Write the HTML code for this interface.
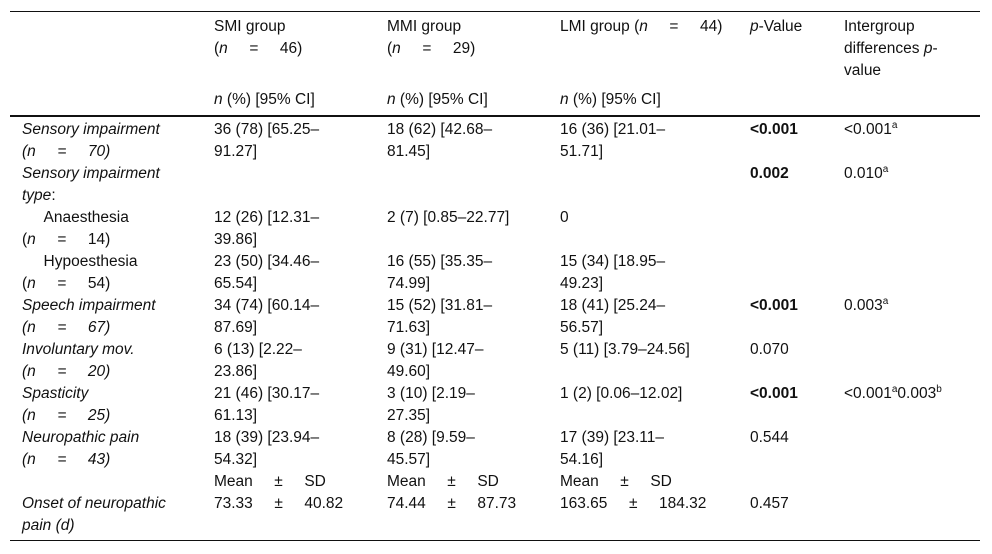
<!DOCTYPE html>
<html><head><meta charset="utf-8"><style>
body{margin:0;width:992px;height:554px;background:#fff;position:relative;overflow:hidden;font-family:"Liberation Sans",Arial,sans-serif;font-size:15.5px;color:#111;}
.c{position:absolute;line-height:22px;white-space:nowrap;}
.ln{position:absolute;left:10px;width:970px;background:#111;}
i{font-style:italic}
sup{font-size:10px;line-height:0;vertical-align:6px}
</style></head><body>
<div class="ln" style="top:11px;height:1px"></div>
<div class="ln" style="top:115px;height:2px"></div>
<div class="ln" style="top:540px;height:1px"></div>

<div class="c" style="left:214px;top:16px">SMI group<br>(<i>n</i>&nbsp;&nbsp;&nbsp;&nbsp; =&nbsp;&nbsp;&nbsp;&nbsp; 46)</div>
<div class="c" style="left:387px;top:16px">MMI group<br>(<i>n</i>&nbsp;&nbsp;&nbsp;&nbsp; =&nbsp;&nbsp;&nbsp;&nbsp; 29)</div>
<div class="c" style="left:560px;top:16px">LMI group (<i>n</i>&nbsp;&nbsp;&nbsp;&nbsp; =&nbsp;&nbsp;&nbsp;&nbsp; 44)</div>
<div class="c" style="left:750px;top:16px"><i>p</i>-Value</div>
<div class="c" style="left:844px;top:16px">Intergroup<br>differences <i>p</i>-<br>value</div>
<div class="c" style="left:214px;top:89px"><i>n</i> (%) [95% CI]</div>
<div class="c" style="left:387px;top:89px"><i>n</i> (%) [95% CI]</div>
<div class="c" style="left:560px;top:89px"><i>n</i> (%) [95% CI]</div>

<div class="c" style="left:22px;top:119px"><i>Sensory impairment<br>(n&nbsp;&nbsp;&nbsp;&nbsp; =&nbsp;&nbsp;&nbsp;&nbsp; 70)</i></div>
<div class="c" style="left:214px;top:119px">36 (78) [65.25–<br>91.27]</div>
<div class="c" style="left:387px;top:119px">18 (62) [42.68–<br>81.45]</div>
<div class="c" style="left:560px;top:119px">16 (36) [21.01–<br>51.71]</div>
<div class="c" style="left:750px;top:119px"><b>&lt;0.001</b></div>
<div class="c" style="left:844px;top:119px">&lt;0.001<sup>a</sup></div>

<div class="c" style="left:22px;top:163px"><i>Sensory impairment<br>type</i>:</div>
<div class="c" style="left:750px;top:163px"><b>0.002</b></div>
<div class="c" style="left:844px;top:163px">0.010<sup>a</sup></div>

<div class="c" style="left:22px;top:207px">&nbsp;&nbsp;&nbsp;&nbsp;&nbsp;Anaesthesia<br>(<i>n</i>&nbsp;&nbsp;&nbsp;&nbsp; =&nbsp;&nbsp;&nbsp;&nbsp; 14)</div>
<div class="c" style="left:214px;top:207px">12 (26) [12.31–<br>39.86]</div>
<div class="c" style="left:387px;top:207px">2 (7) [0.85–22.77]</div>
<div class="c" style="left:560px;top:207px">0</div>

<div class="c" style="left:22px;top:251px">&nbsp;&nbsp;&nbsp;&nbsp;&nbsp;Hypoesthesia<br>(<i>n</i>&nbsp;&nbsp;&nbsp;&nbsp; =&nbsp;&nbsp;&nbsp;&nbsp; 54)</div>
<div class="c" style="left:214px;top:251px">23 (50) [34.46–<br>65.54]</div>
<div class="c" style="left:387px;top:251px">16 (55) [35.35–<br>74.99]</div>
<div class="c" style="left:560px;top:251px">15 (34) [18.95–<br>49.23]</div>

<div class="c" style="left:22px;top:295px"><i>Speech impairment<br>(n&nbsp;&nbsp;&nbsp;&nbsp; =&nbsp;&nbsp;&nbsp;&nbsp; 67)</i></div>
<div class="c" style="left:214px;top:295px">34 (74) [60.14–<br>87.69]</div>
<div class="c" style="left:387px;top:295px">15 (52) [31.81–<br>71.63]</div>
<div class="c" style="left:560px;top:295px">18 (41) [25.24–<br>56.57]</div>
<div class="c" style="left:750px;top:295px"><b>&lt;0.001</b></div>
<div class="c" style="left:844px;top:295px">0.003<sup>a</sup></div>

<div class="c" style="left:22px;top:339px"><i>Involuntary mov.<br>(n&nbsp;&nbsp;&nbsp;&nbsp; =&nbsp;&nbsp;&nbsp;&nbsp; 20)</i></div>
<div class="c" style="left:214px;top:339px">6 (13) [2.22–<br>23.86]</div>
<div class="c" style="left:387px;top:339px">9 (31) [12.47–<br>49.60]</div>
<div class="c" style="left:560px;top:339px">5 (11) [3.79–24.56]</div>
<div class="c" style="left:750px;top:339px">0.070</div>

<div class="c" style="left:22px;top:383px"><i>Spasticity<br>(n&nbsp;&nbsp;&nbsp;&nbsp; =&nbsp;&nbsp;&nbsp;&nbsp; 25)</i></div>
<div class="c" style="left:214px;top:383px">21 (46) [30.17–<br>61.13]</div>
<div class="c" style="left:387px;top:383px">3 (10) [2.19–<br>27.35]</div>
<div class="c" style="left:560px;top:383px">1 (2) [0.06–12.02]</div>
<div class="c" style="left:750px;top:383px"><b>&lt;0.001</b></div>
<div class="c" style="left:844px;top:383px">&lt;0.001<sup>a</sup>0.003<sup>b</sup></div>

<div class="c" style="left:22px;top:427px"><i>Neuropathic pain<br>(n&nbsp;&nbsp;&nbsp;&nbsp; =&nbsp;&nbsp;&nbsp;&nbsp; 43)</i></div>
<div class="c" style="left:214px;top:427px">18 (39) [23.94–<br>54.32]</div>
<div class="c" style="left:387px;top:427px">8 (28) [9.59–<br>45.57]</div>
<div class="c" style="left:560px;top:427px">17 (39) [23.11–<br>54.16]</div>
<div class="c" style="left:750px;top:427px">0.544</div>

<div class="c" style="left:214px;top:471px">Mean&nbsp;&nbsp;&nbsp;&nbsp; ±&nbsp;&nbsp;&nbsp;&nbsp; SD</div>
<div class="c" style="left:387px;top:471px">Mean&nbsp;&nbsp;&nbsp;&nbsp; ±&nbsp;&nbsp;&nbsp;&nbsp; SD</div>
<div class="c" style="left:560px;top:471px">Mean&nbsp;&nbsp;&nbsp;&nbsp; ±&nbsp;&nbsp;&nbsp;&nbsp; SD</div>

<div class="c" style="left:22px;top:493px"><i>Onset of neuropathic<br>pain (d)</i></div>
<div class="c" style="left:214px;top:493px">73.33&nbsp;&nbsp;&nbsp;&nbsp; ±&nbsp;&nbsp;&nbsp;&nbsp; 40.82</div>
<div class="c" style="left:387px;top:493px">74.44&nbsp;&nbsp;&nbsp;&nbsp; ±&nbsp;&nbsp;&nbsp;&nbsp; 87.73</div>
<div class="c" style="left:560px;top:493px">163.65&nbsp;&nbsp;&nbsp;&nbsp; ±&nbsp;&nbsp;&nbsp;&nbsp; 184.32</div>
<div class="c" style="left:750px;top:493px">0.457</div>
</body></html>
